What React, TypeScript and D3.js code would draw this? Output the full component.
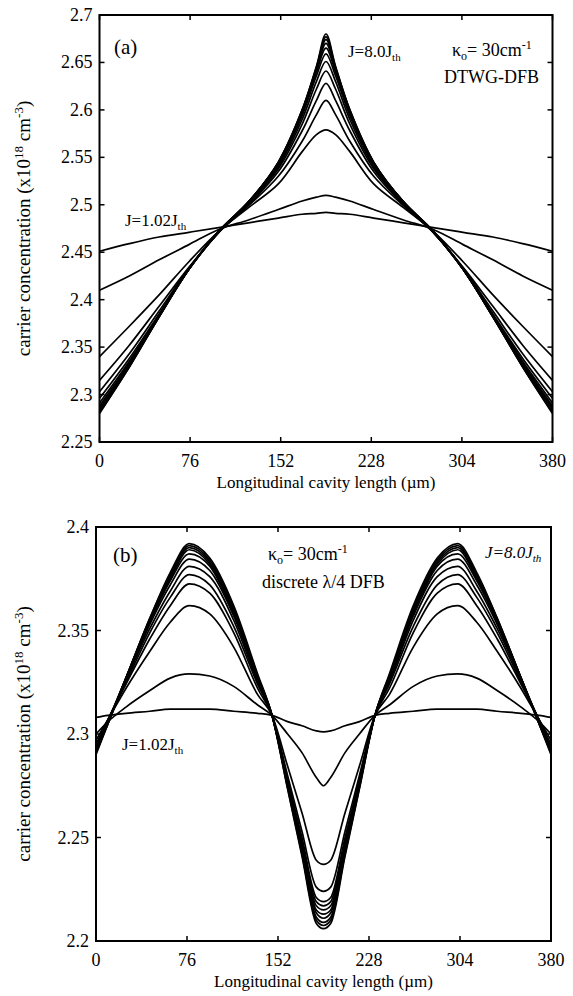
import React from "react";
import * as d3 from "d3";

// ---------- data ----------
const xTicks = [0, 76, 152, 228, 304, 380];
const aYTicks = [2.25, 2.3, 2.35, 2.4, 2.45, 2.5, 2.55, 2.6, 2.65, 2.7];
const bYTicks = [2.2, 2.25, 2.3, 2.35, 2.4];

// Panel (a): half profiles (x = 0 .. 190 µm); profiles are symmetric about the cavity centre
const aXHalf = [0, 25, 50, 75, 100, 125, 150, 170, 182, 190];
const aJ102 = [2.451, 2.459, 2.466, 2.471, 2.476, 2.481, 2.486, 2.49, 2.491, 2.492];
const aJ2 = [2.41, 2.425, 2.442, 2.458, 2.474, 2.484, 2.495, 2.504, 2.508, 2.51];
const aJ3 = [2.34, 2.372, 2.405, 2.44, 2.472, 2.497, 2.522, 2.556, 2.574, 2.579];
const aJ4 = [2.315, 2.352, 2.393, 2.434, 2.471, 2.499, 2.53, 2.567, 2.595, 2.61];
const aJ5 = [2.303, 2.343, 2.388, 2.433, 2.471, 2.5, 2.535, 2.578, 2.61, 2.628];
const aJ6 = [2.296, 2.338, 2.385, 2.433, 2.471, 2.501, 2.538, 2.585, 2.622, 2.641];
const aJ7 = [2.291, 2.335, 2.384, 2.432, 2.471, 2.502, 2.54, 2.59, 2.63, 2.651];
const aJ8 = [2.288, 2.333, 2.383, 2.432, 2.471, 2.502, 2.542, 2.594, 2.636, 2.659];
const aJ9 = [2.286, 2.332, 2.383, 2.432, 2.472, 2.503, 2.543, 2.596, 2.64, 2.665];
const aJ10 = [2.284, 2.331, 2.382, 2.432, 2.472, 2.503, 2.544, 2.598, 2.642, 2.67];
const aJ11 = [2.282, 2.33, 2.382, 2.432, 2.472, 2.503, 2.544, 2.599, 2.644, 2.674];
const aJ12 = [2.281, 2.329, 2.382, 2.432, 2.472, 2.503, 2.545, 2.6, 2.645, 2.677];
const aJ80 = [2.28, 2.329, 2.382, 2.432, 2.472, 2.503, 2.545, 2.6, 2.646, 2.68];
const aCurves = [aJ102, aJ2, aJ3, aJ4, aJ5, aJ6, aJ7, aJ8, aJ9, aJ10, aJ11, aJ12, aJ80];

// Panel (b): half profiles (x = 0 .. 190 µm)
const bXHalf = [0, 10, 25, 45, 62, 78, 95, 115, 135, 147, 160, 172, 184, 190];
const bJ102 = [2.308, 2.309, 2.31, 2.311, 2.312, 2.312, 2.312, 2.311, 2.31, 2.309, 2.306, 2.304, 2.3015, 2.301];
const bJ2 = [2.3, 2.306, 2.313, 2.321, 2.327, 2.329, 2.328, 2.323, 2.314, 2.309, 2.3, 2.291, 2.279, 2.275];
const bJ3 = [2.297, 2.307, 2.322, 2.34, 2.354, 2.362, 2.358, 2.342, 2.319, 2.309, 2.2845, 2.262, 2.239, 2.237];
const bJ4 = [2.295, 2.307, 2.324, 2.346, 2.362, 2.3725, 2.368, 2.349, 2.322, 2.309, 2.28, 2.253, 2.226, 2.224];
const bJ5 = [2.294, 2.307, 2.325, 2.349, 2.366, 2.377, 2.372, 2.352, 2.324, 2.309, 2.278, 2.25, 2.221, 2.219];
const bJ6 = [2.293, 2.306, 2.326, 2.351, 2.369, 2.381, 2.376, 2.355, 2.325, 2.309, 2.2775, 2.248, 2.219, 2.217];
const bJ7 = [2.293, 2.306, 2.326, 2.353, 2.372, 2.3845, 2.379, 2.357, 2.326, 2.309, 2.277, 2.247, 2.217, 2.215];
const bJ8 = [2.292, 2.306, 2.327, 2.354, 2.374, 2.387, 2.381, 2.358, 2.327, 2.309, 2.276, 2.246, 2.215, 2.213];
const bJ9 = [2.292, 2.306, 2.327, 2.355, 2.375, 2.389, 2.382, 2.359, 2.327, 2.309, 2.2755, 2.245, 2.2135, 2.211];
const bJ10 = [2.291, 2.305, 2.327, 2.355, 2.376, 2.39, 2.383, 2.36, 2.328, 2.309, 2.275, 2.243, 2.2115, 2.209];
const bJ11 = [2.291, 2.305, 2.327, 2.356, 2.377, 2.391, 2.384, 2.361, 2.328, 2.309, 2.274, 2.242, 2.21, 2.2075];
const bJ80 = [2.29, 2.305, 2.327, 2.356, 2.378, 2.392, 2.385, 2.362, 2.329, 2.309, 2.2735, 2.241, 2.2085, 2.206];
const bCurves = [bJ102, bJ2, bJ3, bJ4, bJ5, bJ6, bJ7, bJ8, bJ9, bJ10, bJ11, bJ80];

// ---------- helpers ----------
const FONT = "'Liberation Serif', 'Times New Roman', serif";
const L = 380; // cavity length

function fullProfile(xs: number[], ys: number[]): [number, number][] {
  const pts: [number, number][] = xs.map((x, i) => [x, ys[i]]);
  for (let i = xs.length - 2; i >= 0; i--) pts.push([L - xs[i], ys[i]]);
  return pts;
}

type PanelProps = {
  left: number; right: number; top: number; bottom: number;
  yDomain: [number, number]; yTicks: number[];
  xHalf: number[]; curves: number[][];
  curve: d3.CurveFactory;
  children?: React.ReactNode;
};

function Panel({ left, right, top, bottom, yDomain, yTicks, xHalf, curves, curve, children }: PanelProps) {
  const x = d3.scaleLinear().domain([0, L]).range([left, right]);
  const y = d3.scaleLinear().domain(yDomain).range([bottom, top]);
  const line = d3.line<[number, number]>()
    .x((d) => x(d[0]))
    .y((d) => y(d[1]))
    .curve(curve);
  const tl = 5;
  const midY = (top + bottom) / 2;
  return (
    <g>
      {curves.map((c, i) => (
        <path key={i} d={line(fullProfile(xHalf, c)) || ""} fill="none" stroke="#000" strokeWidth={1.7} strokeLinejoin="round" />
      ))}
      <rect x={left} y={top} width={right - left} height={bottom - top} fill="none" stroke="#000" strokeWidth={2} />
      {xTicks.map((t) => (
        <g key={"x" + t}>
          <line x1={x(t)} x2={x(t)} y1={bottom} y2={bottom - tl} stroke="#000" strokeWidth={1.5} />
          <line x1={x(t)} x2={x(t)} y1={top} y2={top + tl} stroke="#000" strokeWidth={1.5} />
          <text x={x(t)} y={bottom + 25} fontSize={18} textAnchor="middle" fontFamily={FONT}>{t}</text>
        </g>
      ))}
      {yTicks.map((t) => (
        <g key={"y" + t}>
          <line x1={left} x2={left + tl} y1={y(t)} y2={y(t)} stroke="#000" strokeWidth={1.5} />
          <line x1={right} x2={right - tl} y1={y(t)} y2={y(t)} stroke="#000" strokeWidth={1.5} />
          <text x={left - 7} y={y(t) + 6} fontSize={18} textAnchor="end" fontFamily={FONT}>{String(t)}</text>
        </g>
      ))}
      <text x={(left + right) / 2} y={bottom + 46} fontSize={17} textAnchor="middle" fontFamily={FONT}>
        Longitudinal cavity length (µm)
      </text>
      <text transform={`translate(30,${midY}) rotate(-90)`} fontSize={19} textAnchor="middle" fontFamily={FONT}>
        carrier concentration (x10<tspan dy={-7} fontSize={13}>18</tspan><tspan dy={7}> cm</tspan><tspan dy={-7} fontSize={13}>-3</tspan><tspan dy={7}>)</tspan>
      </text>
      {children}
    </g>
  );
}

function JLabel({ x, y, value, italic }: { x: number; y: number; value: string; italic?: boolean }) {
  return (
    <text x={x} y={y} fontSize={17} fontFamily={FONT} fontStyle={italic ? "italic" : "normal"}>
      {"J=" + value + "J"}<tspan dy={4} fontSize={11}>th</tspan>
    </text>
  );
}

function Kappa({ x, y }: { x: number; y: number }) {
  return (
    <text x={x} y={y} fontSize={18} fontFamily={FONT}>
      κ<tspan dy={4} fontSize={12}>o</tspan><tspan dy={-4}>= 30cm</tspan><tspan dy={-7} fontSize={12}>-1</tspan>
    </text>
  );
}

export default function App() {
  return (
    <svg width={573} height={996} style={{ position: "absolute", left: 0, top: 0, background: "#fff" }}>
      <rect x={0} y={0} width={573} height={996} fill="#fff" />
      <Panel left={99.5} right={552.5} top={15} bottom={442} yDomain={[2.25, 2.7]} yTicks={aYTicks} xHalf={aXHalf} curves={aCurves} curve={d3.curveCatmullRom.alpha(0.5)}>
        <text x={114} y={54} fontSize={21} fontFamily={FONT}>(a)</text>
        <JLabel x={348} y={57} value="8.0" />
        <Kappa x={452} y={56} />
        <text x={444} y={83} fontSize={18} fontFamily={FONT}>DTWG-DFB</text>
        <JLabel x={125} y={226} value="1.02" />
      </Panel>
      <Panel left={96} right={551} top={527} bottom={941} yDomain={[2.2, 2.4]} yTicks={bYTicks} xHalf={bXHalf} curves={bCurves} curve={d3.curveMonotoneX}>
        <text x={113} y={562} fontSize={21} fontFamily={FONT}>(b)</text>
        <JLabel x={485} y={558} value="8.0" italic />
        <Kappa x={268} y={560} />
        <text x={262} y={588} fontSize={18} fontFamily={FONT}>discrete λ/4 DFB</text>
        <JLabel x={122} y={750} value="1.02" />
      </Panel>
    </svg>
  );
}
